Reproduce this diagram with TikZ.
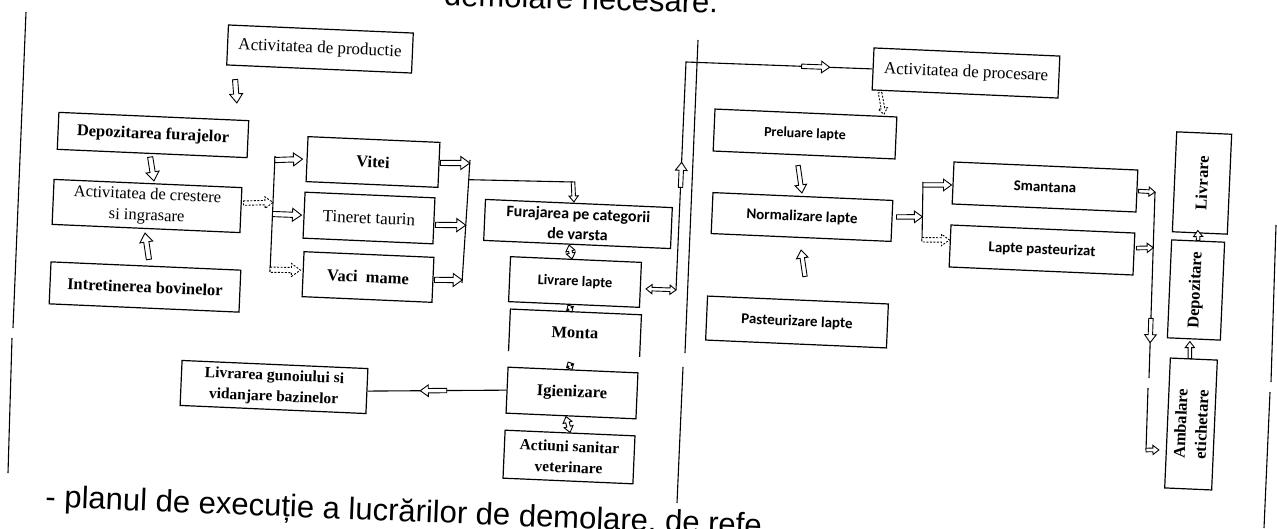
\documentclass[tikz,border=0pt]{standalone}
\usepackage{fontspec}
\setmainfont{Liberation Serif}
\newfontfamily\calfont{Carlito}
\newfontfamily\arialfont{Liberation Sans}
\usetikzlibrary{calc}
\def\bka{2.6pt}\def\bkb{6.5pt}\def\bkh{9pt}
\tikzset{
  box/.style={draw, line width=1.2pt, rotate=-2.5, inner sep=1pt, align=center},
  vbox/.style={draw, line width=1.2pt, rotate=87.5, inner sep=1pt, align=center},
  sr/.style={font=\fontsize{#1}{21}\selectfont}, sr/.default=17,
  sb/.style={font=\fontsize{#1}{21}\selectfont\bfseries}, sb/.default=16.5,
  cb/.style={font=\calfont\fontsize{#1}{20}\selectfont\bfseries}, cb/.default=15,
  wire/.style={line width=1.1pt},
  pageline/.style={line width=1.1pt},
  midarr/.style={/utils/exec={\def\bka{2.2pt}\def\bkb{5.8pt}\def\bkh{8pt}}},
  smallarr/.style={/utils/exec={\def\bka{1.8pt}\def\bkb{4.6pt}\def\bkh{6pt}}},
  tinyarr/.style={/utils/exec={\def\bka{1.4pt}\def\bkb{3.6pt}\def\bkh{3.8pt}}},
  dsh/.style={dash pattern=on 2pt off 1.5pt},
  blk/.style={line width=0.9pt, fill=white, line join=miter, to path={
    ($(\tikztostart)!\bka!90:(\tikztotarget)$)
    -- ($(\tikztotarget)!\bkh!(\tikztostart)!\bka!90:(\tikztotarget)$)
    -- ($(\tikztotarget)!\bkh!(\tikztostart)!\bkb!90:(\tikztotarget)$)
    -- (\tikztotarget)
    -- ($(\tikztotarget)!\bkh!(\tikztostart)!\bkb!-90:(\tikztotarget)$)
    -- ($(\tikztotarget)!\bkh!(\tikztostart)!\bka!-90:(\tikztotarget)$)
    -- ($(\tikztostart)!\bka!-90:(\tikztotarget)$)
    -- cycle}},
  blkd/.style={line width=0.9pt, fill=white, line join=miter, to path={
    (\tikztostart)
    -- ($(\tikztostart)!\bkh!(\tikztotarget)!\bkb!90:(\tikztotarget)$)
    -- ($(\tikztostart)!\bkh!(\tikztotarget)!\bka!90:(\tikztotarget)$)
    -- ($(\tikztotarget)!\bkh!(\tikztostart)!\bka!90:(\tikztotarget)$)
    -- ($(\tikztotarget)!\bkh!(\tikztostart)!\bkb!90:(\tikztotarget)$)
    -- (\tikztotarget)
    -- ($(\tikztotarget)!\bkh!(\tikztostart)!\bkb!-90:(\tikztotarget)$)
    -- ($(\tikztotarget)!\bkh!(\tikztostart)!\bka!-90:(\tikztotarget)$)
    -- ($(\tikztostart)!\bkh!(\tikztotarget)!\bka!-90:(\tikztotarget)$)
    -- ($(\tikztostart)!\bkh!(\tikztotarget)!\bkb!-90:(\tikztotarget)$)
    -- cycle}}
}
\begin{document}
\begin{tikzpicture}[x=1pt,y=-1pt]
\useasboundingbox (0,0) rectangle (1277,528);
\fill[white] (0,0) rectangle (1277,528);
\begin{scope}
\clip (0,0) rectangle (1277,528);
\node[anchor=base east, rotate=-1.5, inner sep=0, font=\arialfont\fontsize{31}{35}\selectfont] (ttop) at (718,13) {demolare necesare.};
\node[anchor=base west, rotate=-2.3, inner sep=0, font=\arialfont\fontsize{31}{35}\selectfont] (tbot) at (45,507) {- planul de execuție a lucrărilor de demolare, de refe};
\end{scope}

% page lines
\draw[pageline] (26,12) -- (13,328) (12,338) -- (8,473);
\draw[pageline] (1276,225) -- (1271,382) (1270,392) -- (1264,528);
\draw[pageline] (698,40) -- (685,353) (683,367) -- (677,503);

% boxes
\node[box, sr, minimum width=185pt, minimum height=40pt] (p1) at (320,49) {Activitatea de productie};
\node[box, sb, minimum width=190pt, minimum height=37pt] (p2) at (153,135) {Depozitarea furajelor};
\node[box, sr=16.5, minimum width=188pt, minimum height=45pt] (p3) at (147,206) {Activitatea de crestere\\si ingrasare};
\node[box, sb, minimum width=190pt, minimum height=42pt] (p4) at (145,287) {Intretinerea bovinelor};
\node[box, sb, minimum width=132pt, minimum height=45pt] (v1) at (373,162) {Vitei};
\node[box, sr, minimum width=130pt, minimum height=46pt] (v2) at (369,218) {Tineret taurin};
\node[box, sb, minimum width=130pt, minimum height=45pt] (v3) at (368,277) {Vaci\ \ mame};
\node[box, cb=16, minimum width=187pt, minimum height=41pt] (f) at (578,224) {Furajarea pe categorii\\de varsta};
\node[box, cb=14.5, minimum width=131pt, minimum height=45pt] (l) at (575,282) {Livrare lapte};
\node[box, sb, draw=none, minimum width=130pt, minimum height=41pt] (m) at (575,333) {Monta};
\draw[line width=1.2pt] (m.south west) -- (m.north west) -- (m.north east) -- (m.south east);
\node[box, sb, minimum width=130pt, minimum height=46pt] (i) at (572,393) {Igienizare};
\node[box, sb=15.5, minimum width=130pt, minimum height=48pt] (a) at (569,457) {Actiuni sanitar\\veterinare};
\node[box, sb=15.5, minimum width=186pt, minimum height=45pt] (g) at (274,387) {Livrarea gunoiului si\\vidanjare bazinelor};
\node[box, sr, minimum width=186pt, minimum height=42pt] (pr) at (966,73) {Activitatea de procesare};
\node[box, cb=14, minimum width=182pt, minimum height=42pt] (pl) at (805,134) {Preluare lapte};
\node[box, cb, minimum width=180pt, minimum height=41pt] (nl) at (802,217) {Normalizare lapte};
\node[box, cb, minimum width=181pt, minimum height=44pt] (ps) at (797,322) {Pasteurizare lapte};
\node[box, cb, minimum width=184pt, minimum height=42pt] (sm) at (1045,187) {Smantana};
\node[box, cb, minimum width=184pt, minimum height=42pt] (lp) at (1042,250) {Lapte pasteurizat};
\node[vbox, sb, minimum width=100pt, minimum height=55pt] (lv) at (1202,183) {Livrare};
\node[vbox, sb, minimum width=98pt, minimum height=53pt] (dp) at (1196,290) {Depozitare};
\node[vbox, sb, minimum width=130pt, minimum height=47pt] (ae) at (1191,424) {Ambalare\\etichetare};

% bus coordinates
\coordinate (b1t) at (275,156); \coordinate (b1b) at (270,272);
\coordinate (b2t) at (470,160); \coordinate (b2b) at (462,283);
\coordinate (b2m) at ($(b2t)!0.16!(b2b)$); \coordinate (fk) at (573,182);
\coordinate (cvb) at (676,290); \coordinate (cvt) at (686,62);
\coordinate (b3t) at (923,182); \coordinate (b3b) at (922,241);
\coordinate (rt) at (1155,192); \coordinate (rb) at (1149,378);
\coordinate (rc) at (1148,388); \coordinate (rd) at (1146,450);

% wires
\draw[wire] (b1t) -- (b1b);
\draw[wire] (b2t) -- (b2b);
\draw[wire] (b2m) -- (fk);
\draw[wire] (cvb) -- (cvt) -- (pr.west);
\draw[wire] (b3t) -- (b3b);
\draw[wire] (rt) -- (rb);
\draw[wire] (rc) -- (rd);
\draw[wire] (g.east) -- (i.west);

% left part arrows
\draw[blk] ([xshift=-84pt,yshift=-10pt]p1.south) to ([xshift=83pt,yshift=13pt]p2.north);
\draw[blk] ([xshift=-2pt,yshift=-3pt]p2.south) to ([xshift=6pt,yshift=2pt]p3.north);
\draw[blk] ([xshift=3pt,yshift=6pt]p4.north) to ([xshift=-1pt,yshift=-4pt]p3.south);
\draw[blk, midarr, dsh] ([xshift=2pt,yshift=7pt]p3.east) to ($(b1t)!0.4!(b1b)$);
\draw[blk] ($(b1t)!0.035!(b1b)$) to ([xshift=-4pt]v1.west);
\draw[blk] ($(b1t)!0.5!(b1b)$) to ([xshift=-2pt]v2.west);
\draw[blk, dsh] ($(b1t)!0.98!(b1b)$) to ([xshift=-2pt,yshift=4pt]v3.west);
\draw[blk] ([xshift=1pt,yshift=2pt]v1.east) to ($(b2t)!0.025!(b2b)$);
\draw[blk] ([xshift=1pt,yshift=-4pt]v2.east) to ($(b2t)!0.53!(b2b)$);
\draw[blk] ([xshift=1pt]v3.east) to ($(b2t)!0.976!(b2b)$);
\draw[blk, smallarr] (fk) to ([xshift=-5pt,yshift=1pt]f.north);
\draw[blkd, smallarr] ([xshift=-8pt]f.south) to ([xshift=-4pt]l.north);
\draw[blkd, tinyarr] ([xshift=-6pt]l.south) to ([xshift=-4pt]m.north);
\draw[blkd, tinyarr] ([xshift=-6pt,yshift=-8pt]m.south) to ([xshift=-1pt]i.north);
\draw[blkd, smallarr] ([xshift=-5pt]i.south) to (a.north);
\draw[blk, midarr] ($(i.west)!0.43!(g.east)$) to ($(i.west)!0.62!(g.east)$);
\draw[blkd, smallarr] ([xshift=5pt,yshift=-4pt]l.east) to (cvb);
\draw[blk, midarr] ($(cvb)!0.45!(cvt)$) to ($(cvb)!0.56!(cvt)$);
\draw[blk, midarr] ($(cvt)!0.62!(pr.west)$) to ($(cvt)!0.77!(pr.west)$);

% right part arrows
\draw[blk, smallarr, dsh] ([xshift=-85pt,yshift=2pt]pr.south) to ([xshift=78pt,yshift=-2pt]pl.north);
\draw[blk, midarr] ([xshift=-6pt,yshift=-10pt]pl.south) to ([xshift=-1pt,yshift=3pt]nl.north);
\draw[blk, midarr] ([xshift=7pt,yshift=23pt]ps.north) to ([yshift=-12pt]nl.south);
\draw[blk, midarr] ([xshift=4pt,yshift=4pt]nl.east) to ($(b3t)!0.59!(b3b)$);
\draw[blk, midarr] ($(b3t)!0.05!(b3b)$) to ([xshift=-1pt,yshift=-2pt]sm.west);
\draw[blk, midarr, dsh] ($(b3t)!0.98!(b3b)$) to ([yshift=6pt]lp.west);
\draw[blk, smallarr] ([xshift=1pt]sm.east) to (rt);
\draw[blk, smallarr] ([xshift=2pt,yshift=6pt]lp.east) to ($(rt)!0.3!(rb)$);
\draw[blk, midarr] ($(rt)!0.68!(rb)$) to ($(rt)!0.81!(rb)$);
\draw[blk, smallarr] (rd) to ([xshift=-8pt,yshift=-27pt]ae.north);
\draw[blk, smallarr] (dp.east) to ([xshift=-2pt,yshift=3pt]lv.west);
\draw[blk, smallarr] ([xshift=-4pt]ae.east) to ([xshift=-4pt,yshift=-2pt]dp.west);
\end{tikzpicture}
\end{document}
